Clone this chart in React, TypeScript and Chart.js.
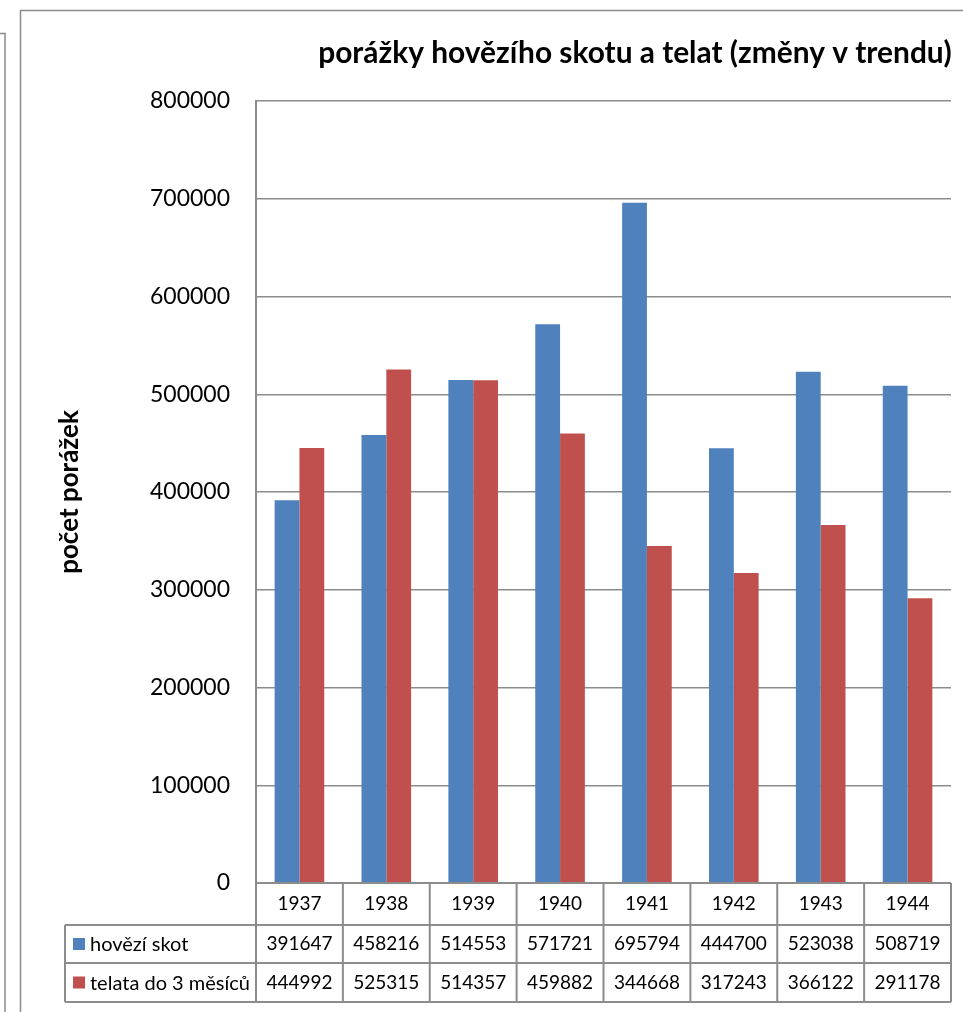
import React, { useEffect, useRef } from "react";
import { Chart, registerables } from "chart.js";

Chart.register(...registerables);

const years = ["1937", "1938", "1939", "1940", "1941", "1942", "1943", "1944"];
const cattle = [391647, 458216, 514553, 571721, 695794, 444700, 523038, 508719];
const calves = [444992, 525315, 514357, 459882, 344668, 317243, 366122, 291178];
const seriesNames = ["hovězí skot", "telata do 3 měsíců"];
const seriesColors = ["#4F81BD", "#C0504D"];
const chartTitle = "porážky hovězího skotu a telat (změny v trendu)";
const yTitle = "počet porážek";

const FONT = "Lato, 'Open Sans', sans-serif";
const LINE = "#8c8c8c";

const framePlugin = {
  id: "frameAndTable",
  beforeDraw(chart: any) {
    const ctx = chart.ctx;
    ctx.save();
    ctx.fillStyle = "#ffffff";
    ctx.fillRect(0, 0, chart.width, chart.height);
    ctx.strokeStyle = LINE;
    ctx.lineWidth = 1.5;
    ctx.beginPath();
    ctx.moveTo(0, 33.5);
    ctx.lineTo(5, 33.5);
    ctx.lineTo(5, chart.height + 2);
    ctx.stroke();
    ctx.beginPath();
    ctx.moveTo(20.5, chart.height + 2);
    ctx.lineTo(20.5, 10.5);
    ctx.lineTo(chart.width + 2, 10.5);
    ctx.stroke();
    ctx.restore();
  },
  afterDraw(chart: any) {
    const ctx = chart.ctx;
    const xs = chart.scales.x;
    const area = chart.chartArea;
    const n = years.length;
    const half = (xs.getPixelForValue(1) - xs.getPixelForValue(0)) / 2;
    const left = xs.getPixelForValue(0) - half;
    const right = xs.getPixelForValue(n - 1) + half;
    const r0 = area.bottom;
    const r1 = r0 + 42;
    const r2 = r1 + 38;
    const r3 = r2 + 39;
    const labelLeft = 65;

    ctx.save();
    ctx.fillStyle = "#000";
    ctx.font = `bold 100px ${FONT}`;
    const w = ctx.measureText(chartTitle).width;
    const size = (100 * 634) / w;
    ctx.font = `bold ${size}px ${FONT}`;
    ctx.textAlign = "center";
    ctx.textBaseline = "alphabetic";
    ctx.fillText(chartTitle, 635, 63);

    ctx.strokeStyle = LINE;
    ctx.lineWidth = 2;
    ctx.beginPath();
    ctx.moveTo(left, r0);
    ctx.lineTo(right, r0);
    ctx.moveTo(labelLeft, r1);
    ctx.lineTo(right, r1);
    ctx.moveTo(labelLeft, r2);
    ctx.lineTo(right, r2);
    ctx.moveTo(labelLeft, r3);
    ctx.lineTo(right, r3);
    ctx.moveTo(labelLeft, r1);
    ctx.lineTo(labelLeft, r3);
    for (let i = 0; i <= n; i++) {
      const x = left + i * 2 * half;
      ctx.moveTo(x, r0);
      ctx.lineTo(x, r3);
    }
    ctx.stroke();

    ctx.font = `19px ${FONT}`;
    ctx.textBaseline = "middle";
    ctx.textAlign = "center";
    const rows = [cattle, calves];
    for (let i = 0; i < n; i++) {
      const cx = xs.getPixelForValue(i);
      ctx.fillText(years[i], cx, (r0 + r1) / 2);
      ctx.fillText(String(rows[0][i]), cx, (r1 + r2) / 2);
      ctx.fillText(String(rows[1][i]), cx, (r2 + r3) / 2);
    }
    ctx.textAlign = "left";
    ctx.font = `20px ${FONT}`;
    const rowMid = [(r1 + r2) / 2, (r2 + r3) / 2];
    for (let s = 0; s < 2; s++) {
      ctx.fillStyle = seriesColors[s];
      ctx.fillRect(73, rowMid[s] - 6, 12, 12);
      ctx.fillStyle = "#000";
      ctx.fillText(seriesNames[s], 90, rowMid[s] + 1);
    }
    ctx.restore();
  },
};

export default function App() {
  const ref = useRef<HTMLCanvasElement>(null);

  useEffect(() => {
    if (!ref.current) return;
    const chart = new Chart(ref.current, {
      type: "bar",
      data: {
        labels: years,
        datasets: [
          {
            label: seriesNames[0],
            data: cattle,
            backgroundColor: seriesColors[0],
            borderWidth: 0,
            categoryPercentage: 0.571,
            barPercentage: 1,
          },
          {
            label: seriesNames[1],
            data: calves,
            backgroundColor: seriesColors[1],
            borderWidth: 0,
            categoryPercentage: 0.571,
            barPercentage: 1,
          },
        ],
      },
      options: {
        responsive: false,
        animation: false,
        devicePixelRatio: 1,
        layout: { padding: { left: 20, right: 12, top: 101, bottom: 129 } },
        plugins: {
          legend: { display: false },
          tooltip: { enabled: false },
          title: { display: false },
        },
        scales: {
          x: { display: false },
          y: {
            min: 0,
            max: 800000,
            afterFit: (scale: any) => {
              scale.width = 236;
            },
            ticks: {
              stepSize: 100000,
              color: "#000",
              padding: 26,
              font: { family: FONT, size: 23 },
              callback: (v: any) => String(v),
            },
            grid: { color: LINE, lineWidth: 1.5, drawTicks: false },
            border: { color: LINE, width: 2 },
            title: {
              display: true,
              text: yTitle,
              color: "#000",
              font: { family: FONT, size: 26, weight: "bold" },
              padding: { top: 34, bottom: 0 },
            },
          },
        },
      },
      plugins: [framePlugin],
    });
    return () => chart.destroy();
  }, []);

  return (
    <div style={{ position: "absolute", left: 0, top: 0, width: 963, height: 1012 }}>
      <canvas ref={ref} width={963} height={1012} style={{ display: "block" }} />
    </div>
  );
}
